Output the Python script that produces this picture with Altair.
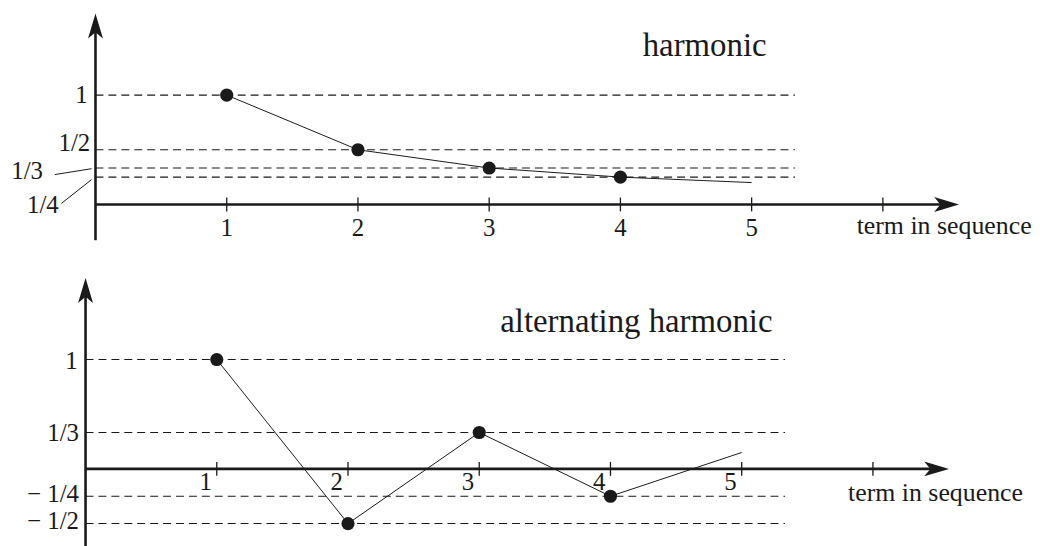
import altair as alt
import pandas as pd

FONT = "Liberation Serif"
INK = "#1a1a1a"

# ---------------- data: harmonic ----------------
harm_n = [1, 2, 3, 4, 5]
harm_val = [1.0, 0.5, 0.333, 0.25, 0.2]
harm_dot_n = [1, 2, 3, 4]
harm_dot_val = [1.0, 0.5, 0.333, 0.25]
harm_guides = [1.0, 0.5, 0.333, 0.25]
harm_ylabels = ["1", "1/2", "1/3", "1/4"]
harm_ylabel_x = [-0.06, -0.04, -0.40, -0.28]
harm_ylabel_y = [1.0, 0.56, 0.31, -0.01]
harm_leader_x = [-0.31, -0.26]
harm_leader_y = [0.273, 0.009]
harm_leader_x2 = [-0.03, -0.03]
harm_leader_y2 = [0.327, 0.227]
harm_title = "harmonic"

# ---------------- data: alternating harmonic ----------------
alt_n = [1, 2, 3, 4, 5]
alt_val = [1.0, -0.5, 0.333, -0.25, 0.15]
alt_dot_n = [1, 2, 3, 4]
alt_dot_val = [1.0, -0.5, 0.333, -0.25]
alt_guides = [1.0, 0.333, -0.25, -0.5]
alt_ylabels = ["1", "1/3", "\u2212 1/4", "\u2212 1/2"]
alt_ylabel_x = [-0.06, -0.05, -0.05, -0.05]
alt_ylabel_y = [0.99, 0.33, -0.23, -0.48]
alt_title = "alternating harmonic"

tick_n = [1, 2, 3, 4, 5, 6]
tick_labels = ["1", "2", "3", "4", "5"]
xlabel = "term in sequence"
guide_end = 5.33
xaxis_tip = 6.58


def panel(xdom, ydom, h, line_n, line_v, dot_n, dot_v, guides, ylabels,
          ylx, yly, title, title_x, title_y, xl_x, xl_y, yaxis_lo,
          tick_lab_mode, leaders=None):
    xs = alt.Scale(domain=xdom, nice=False, zero=False)
    ys = alt.Scale(domain=ydom, nice=False, zero=False)

    def X(f):
        return alt.X(f, type="quantitative", scale=xs, axis=None)

    def Y(f):
        return alt.Y(f, type="quantitative", scale=ys, axis=None)

    layers = []
    gdf = pd.DataFrame({"y": guides, "x": [0.0] * len(guides), "x2": [guide_end] * len(guides)})
    layers.append(alt.Chart(gdf).mark_rule(strokeDash=[8, 5], strokeWidth=1.1, color=INK)
                  .encode(x=X("x"), x2="x2", y=Y("y")))

    # axes
    vdf = pd.DataFrame({"x": [0.0], "y": [yaxis_lo], "y2": [1.66]})
    layers.append(alt.Chart(vdf).mark_rule(strokeWidth=2.6, color=INK)
                  .encode(x=X("x"), y=Y("y"), y2="y2"))
    hdf = pd.DataFrame({"y": [0.0], "x": [0.0], "x2": [xaxis_tip - 0.08]})
    layers.append(alt.Chart(hdf).mark_rule(strokeWidth=2.6, color=INK)
                  .encode(x=X("x"), x2="x2", y=Y("y")))
    # arrow heads
    up = pd.DataFrame({"x": [0.0], "y": [1.745]})
    layers.append(alt.Chart(up).mark_point(shape="M0,0L0.6,2L0,1.5L-0.6,2Z", size=625,
                                           filled=True, opacity=1, color=INK, strokeWidth=0)
                  .encode(x=X("x"), y=Y("y")))
    rt = pd.DataFrame({"x": [xaxis_tip], "y": [0.0]})
    layers.append(alt.Chart(rt).mark_point(shape="M0,0L-2,-0.6L-1.5,0L-2,0.6Z", size=625,
                                           filled=True, opacity=1, color=INK, strokeWidth=0)
                  .encode(x=X("x"), y=Y("y")))
    # ticks
    tdf = pd.DataFrame({"x": tick_n, "y": [0.0] * len(tick_n)})
    layers.append(alt.Chart(tdf).mark_point(shape="M0,-1L0,1", size=196, filled=False,
                                            opacity=1, color=INK, strokeWidth=1.3)
                  .encode(x=X("x"), y=Y("y")))
    # data line + dots
    ldf = pd.DataFrame({"n": line_n, "v": line_v})
    layers.append(alt.Chart(ldf).mark_line(strokeWidth=1, color=INK)
                  .encode(x=X("n"), y=Y("v")))
    ddf = pd.DataFrame({"n": dot_n, "v": dot_v})
    layers.append(alt.Chart(ddf).mark_circle(size=175, opacity=1, color=INK)
                  .encode(x=X("n"), y=Y("v")))
    # leaders
    if leaders is not None:
        ldr = pd.DataFrame(dict(zip(["x", "y", "x2", "y2"], leaders)))
        layers.append(alt.Chart(ldr).mark_rule(strokeWidth=1, color=INK)
                      .encode(x=X("x"), y=Y("y"), x2="x2", y2="y2"))
    # y labels
    ydf = pd.DataFrame({"t": ylabels, "x": ylx, "y": yly})
    layers.append(alt.Chart(ydf).mark_text(font=FONT, fontSize=25, align="right",
                                           baseline="middle", color=INK)
                  .encode(x=X("x"), y=Y("y"), text="t:N"))
    # x tick labels
    xdf = pd.DataFrame({"t": tick_labels, "x": tick_n[:5], "y": [0.0] * 5})
    if tick_lab_mode == "below":
        layers.append(alt.Chart(xdf).mark_text(font=FONT, fontSize=25, align="center",
                                               baseline="middle", dy=24, color=INK)
                      .encode(x=X("x"), y=Y("y"), text="t:N"))
    else:
        layers.append(alt.Chart(xdf).mark_text(font=FONT, fontSize=25, align="right",
                                               baseline="middle", dx=-5, dy=13, color=INK)
                      .encode(x=X("x"), y=Y("y"), text="t:N"))
    # title
    tdf2 = pd.DataFrame({"t": [title], "x": [title_x], "y": [title_y]})
    layers.append(alt.Chart(tdf2).mark_text(font=FONT, fontSize=33, align="left",
                                            baseline="alphabetic", color=INK)
                  .encode(x=X("x"), y=Y("y"), text="t:N"))
    # x axis label
    xl = pd.DataFrame({"t": [xlabel], "x": [xl_x], "y": [xl_y]})
    layers.append(alt.Chart(xl).mark_text(font=FONT, fontSize=26, align="left",
                                          baseline="alphabetic", color=INK)
                  .encode(x=X("x"), y=Y("y"), text="t:N"))
    return alt.layer(*layers).properties(width=1024, height=h)


top = panel([-0.6667, 7.0909], [-0.4909, 1.7818], 250,
            harm_n, harm_val, harm_dot_n, harm_dot_val, harm_guides, harm_ylabels,
            harm_ylabel_x, harm_ylabel_y, harm_title, 4.17, 1.355, 5.80, -0.273, -0.327,
            "below", leaders=[harm_leader_x, harm_leader_y, harm_leader_x2, harm_leader_y2])

bottom = panel([-0.5909, 7.1667], [-0.7091, 1.9273], 290,
               alt_n, alt_val, alt_dot_n, alt_dot_val, alt_guides, alt_ylabels,
               alt_ylabel_x, alt_ylabel_y, alt_title, 3.16, 1.255, 5.81, -0.29, -0.75,
               "left")

chart = alt.vconcat(top, bottom, spacing=0, bounds="flush").properties(
    padding=0
).configure_view(strokeWidth=0)

chart.save("out.html", embed_options={"renderer": "svg", "actions": False})
